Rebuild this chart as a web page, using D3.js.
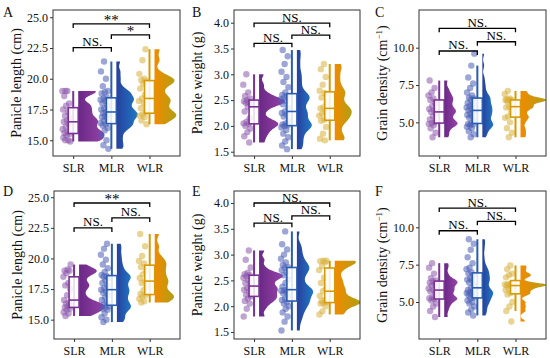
<!DOCTYPE html>
<html>
<head>
<meta charset="utf-8">
<script src="https://cdn.jsdelivr.net/npm/d3@7"></script>
<style>
  body { margin: 0; background: #fff; }
  svg { display: block; font-family: "Liberation Serif", "Times New Roman", serif; }
</style>
</head>
<body>
<svg id="chart" width="550" height="358"></svg>
<script>
// Groups
const groups = ['SLR', 'MLR', 'WLR'];

// Tick labels
const lengthTicks = [15, 17.5, 20, 22.5, 25];
const weightTicks = [1.5, 2, 2.5, 3, 3.5, 4];
const densityTicks = [5, 7.5, 10];

// Panel A - panicle length (cm)
const aSLR = [14.9, 15.0, 15.0, 15.2, 15.4, 15.5, 15.6, 15.7, 15.9, 16.1, 16.3, 16.5, 16.6, 16.8, 17.0, 17.3, 17.5, 17.8, 18.0, 18.6, 19.0, 19.0, 19.0];
const aMLR = [14.3, 14.6, 15.0, 15.4, 15.8, 16.0, 16.2, 16.3, 16.4, 16.6, 16.8, 16.9, 17.0, 17.1, 17.2, 17.3, 17.5, 17.6, 17.8, 18.0, 18.2, 18.3, 18.4, 18.5, 18.8, 18.9, 19.0, 19.4, 20.0, 20.6, 21.4];
const aWLR = [16.3, 16.6, 16.9, 17.0, 17.1, 17.3, 17.6, 18.0, 18.2, 18.4, 18.7, 19.2, 19.6, 19.8, 19.9, 20.0, 20.4, 21.5, 22.4];

// Panel B - panicle weight (g)
const bSLR = [1.68, 1.80, 1.88, 1.95, 2.00, 2.04, 2.05, 2.08, 2.15, 2.28, 2.37, 2.42, 2.45, 2.46, 2.48, 2.50, 2.53, 2.58, 2.65, 2.80, 3.00];
const bMLR = [1.55, 1.62, 1.70, 1.78, 1.85, 1.92, 1.97, 2.00, 2.01, 2.03, 2.05, 2.10, 2.18, 2.22, 2.25, 2.28, 2.35, 2.42, 2.48, 2.52, 2.55, 2.58, 2.60, 2.65, 2.75, 2.85, 2.95, 3.05, 3.20, 3.35, 3.47];
const bWLR = [1.72, 1.75, 1.85, 1.98, 2.10, 2.12, 2.20, 2.24, 2.28, 2.34, 2.36, 2.45, 2.55, 2.64, 2.68, 2.80, 2.95, 3.10, 3.20];

// Panel C - grain density (cm-1)
const cSLR = [4.0, 4.3, 4.6, 4.8, 4.9, 4.95, 5.0, 5.2, 5.4, 5.6, 5.7, 5.8, 5.9, 6.1, 6.3, 6.5, 6.6, 6.8, 7.0, 7.3, 7.8];
const cMLR = [4.0, 4.2, 4.4, 4.6, 4.7, 4.8, 4.85, 4.9, 4.95, 5.1, 5.3, 5.4, 5.5, 5.6, 5.7, 5.8, 5.9, 6.0, 6.1, 6.2, 6.3, 6.5, 6.6, 6.65, 6.8, 7.0, 7.3, 7.6, 8.0, 8.8, 9.6];
const cWLR = [4.0, 4.3, 4.6, 5.0, 5.3, 5.4, 5.7, 6.0, 6.05, 6.05, 6.4, 6.45, 6.5, 6.5, 6.5, 6.55, 6.6, 6.9, 7.1];

// Panel D - panicle length (cm)
const dSLR = [15.3, 15.5, 15.6, 15.8, 15.9, 16.0, 16.1, 16.2, 16.3, 16.4, 16.6, 17.0, 17.5, 17.8, 18.0, 18.5, 18.8, 19.0, 19.0, 19.1, 19.5];
const dMLR = [14.8, 15.0, 15.2, 15.5, 15.8, 15.9, 16.0, 16.1, 16.25, 16.4, 16.6, 16.8, 17.0, 17.2, 17.3, 17.45, 17.6, 17.8, 18.0, 18.2, 18.4, 18.5, 18.55, 18.65, 18.9, 19.2, 19.5, 19.9, 20.3, 20.8, 21.2];
const dWLR = [16.4, 16.5, 16.7, 16.9, 17.0, 17.1, 17.4, 17.7, 18.0, 18.15, 18.4, 18.7, 19.0, 19.3, 19.6, 19.8, 20.2, 21.0, 22.0];

// Panel E - panicle weight (g)
const eSLR = [1.80, 1.95, 2.05, 2.10, 2.15, 2.19, 2.22, 2.28, 2.32, 2.35, 2.39, 2.45, 2.50, 2.55, 2.58, 2.60, 2.62, 2.65, 2.75, 2.90, 3.08];
const eMLR = [1.53, 1.70, 1.80, 1.88, 1.95, 2.00, 2.05, 2.08, 2.12, 2.15, 2.20, 2.25, 2.28, 2.30, 2.31, 2.32, 2.38, 2.45, 2.52, 2.60, 2.65, 2.70, 2.74, 2.76, 2.80, 2.85, 2.92, 3.00, 3.10, 3.20, 3.45];
const eWLR = [1.84, 1.90, 2.00, 2.05, 2.06, 2.08, 2.10, 2.12, 2.20, 2.29, 2.35, 2.45, 2.55, 2.70, 2.78, 2.85, 2.87, 2.88, 2.88];

// Panel F - grain density (cm-1)
const fSLR = [4.0, 4.4, 4.7, 4.9, 5.1, 5.2, 5.25, 5.3, 5.5, 5.7, 5.8, 5.9, 6.1, 6.2, 6.3, 6.4, 6.45, 6.6, 6.9, 7.3, 7.6];
const fMLR = [4.1, 4.3, 4.5, 4.7, 4.9, 5.0, 5.1, 5.25, 5.3, 5.45, 5.55, 5.6, 5.65, 5.7, 5.8, 5.95, 6.1, 6.3, 6.45, 6.5, 6.6, 6.8, 6.9, 7.0, 7.2, 7.3, 7.6, 8.0, 8.5, 8.9, 9.2];
const fWLR = [3.7, 4.4, 4.7, 5.0, 5.5, 5.6, 5.8, 5.9, 6.05, 6.1, 6.15, 6.18, 6.2, 6.22, 6.65, 6.8, 6.9, 7.2, 7.45];

// Significance labels: [SLR-MLR, MLR-WLR, SLR-WLR]
const sigA = ['NS.', '*', '**'];
const sigB = ['NS.', 'NS.', 'NS.'];
const sigC = ['NS.', 'NS.', 'NS.'];
const sigD = ['NS.', 'NS.', '**'];
const sigE = ['NS.', 'NS.', 'NS.'];
const sigF = ['NS.', 'NS.', 'NS.'];

const colors = {
  SLR: { pt: '#8c58ab', box: '#7b3294', v0: '#6a2886', v1: '#9643a8' },
  MLR: { pt: '#4a5eb6', box: '#2a5db0', v0: '#28409c', v1: '#1f78c6' },
  WLR: { pt: '#d8b03c', box: '#d69a08', v0: '#f28a00', v1: '#b0a014' }
};

// layout: frame [left, top, right, bottom], bracket heights in data units
const panels = [
  { id: 'A', title: 'Panicle length (cm)', data: [aSLR, aMLR, aWLR], ticks: lengthTicks, sig: sigA,
    frame: [53, 10, 180, 156], yDom: [13.72, 25.59], letter: [3, 17], brackets: [22.53, 23.56, 24.46] },
  { id: 'B', title: 'Panicle weight (g)', data: [bSLR, bMLR, bWLR], ticks: weightTicks, sig: sigB,
    frame: [234, 10, 360, 156], yDom: [1.417, 4.246], letter: [192, 17], brackets: [3.60, 3.76, 3.99] },
  { id: 'C', title: 'Grain density (cm', sup: true, data: [cSLR, cMLR, cWLR], ticks: densityTicks, sig: sigC,
    frame: [419, 10, 546, 156], yDom: [2.746, 12.525], letter: [375, 17], brackets: [9.78, 10.40, 11.30] },
  { id: 'D', title: 'Panicle length (cm)', data: [dSLR, dMLR, dWLR], ticks: lengthTicks, sig: sigD,
    frame: [54, 191, 180, 339], yDom: [13.42, 25.51], letter: [3, 196], brackets: [22.49, 23.31, 24.53] },
  { id: 'E', title: 'Panicle weight (g)', data: [eSLR, eMLR, eWLR], ticks: weightTicks, sig: sigE,
    frame: [234, 191, 360, 339], yDom: [1.364, 4.233], letter: [192, 196], brackets: [3.61, 3.75, 4.0] },
  { id: 'F', title: 'Grain density (cm', sup: true, data: [fSLR, fMLR, fWLR], ticks: densityTicks, sig: sigF,
    frame: [419, 191, 546, 339], yDom: [2.524, 12.43], letter: [375, 196], brackets: [9.77, 10.40, 11.29] }
];

const svg = d3.select('#chart');
const defs = svg.append('defs');

groups.forEach(g => {
  const lg = defs.append('linearGradient').attr('id', 'grad-' + g).attr('x1', '0%').attr('x2', '100%');
  lg.append('stop').attr('offset', '0%').attr('stop-color', colors[g].v0);
  lg.append('stop').attr('offset', '100%').attr('stop-color', colors[g].v1);
});

function boxStats(values) {
  const s = values.slice().sort(d3.ascending);
  const q1 = d3.quantile(s, 0.25), med = d3.quantile(s, 0.5), q3 = d3.quantile(s, 0.75);
  const iqr = q3 - q1;
  const lo = d3.min(s.filter(v => v >= q1 - 1.5 * iqr));
  const hi = d3.max(s.filter(v => v <= q3 + 1.5 * iqr));
  return { q1, med, q3, lo, hi };
}

// gaussian kernel density, trimmed to the data range
function kde(values, adjust) {
  const s = values.slice().sort(d3.ascending);
  const sd = d3.deviation(s);
  const iqr = d3.quantile(s, 0.75) - d3.quantile(s, 0.25);
  const bw = 0.9 * Math.min(sd, iqr / 1.34) * Math.pow(s.length, -0.2) * adjust;
  const lo = s[0], hi = s[s.length - 1];
  return d3.range(0, 121).map(i => {
    const v = lo + (hi - lo) * i / 120;
    const d = d3.mean(s, x => Math.exp(-0.5 * ((v - x) / bw) ** 2)) / (bw * Math.sqrt(2 * Math.PI));
    return [v, d];
  });
}

function drawPanel(p, pi) {
  const [l, t, r, b] = p.frame;
  const x = d3.scaleLinear().domain([0.47, 3.8]).range([l, r]);
  const y = d3.scaleLinear().domain(p.yDom).range([b, t]);
  const g = svg.append('g');

  const clipId = 'clip-' + p.id;
  defs.append('clipPath').attr('id', clipId)
    .append('rect').attr('x', l).attr('y', t).attr('width', r - l).attr('height', b - t);

  const plot = g.append('g').attr('clip-path', `url(#${clipId})`);

  // half violins
  const dens = p.data.map(v => kde(v, 0.4));
  const maxD = d3.max(dens, d => d3.max(d, e => e[1]));
  const w = d3.scaleLinear().domain([0, maxD]).range([0, 26]);
  dens.forEach((d, i) => {
    const x0 = x(i + 1) + 5;
    const area = d3.area()
      .y(e => y(e[0]))
      .x0(x0)
      .x1(e => x0 + w(e[1]))
      .curve(d3.curveBasis);
    plot.append('path')
      .attr('d', area(d))
      .attr('fill', `url(#grad-${groups[i]})`)
      .attr('stroke', 'none');
  });

  // jittered points
  p.data.forEach((vals, i) => {
    plot.selectAll(null)
      .data(vals)
      .enter()
      .append('circle')
      .attr('cx', (v, k) => x(i + 1) - 3 - ((k * 0.6180339 + pi * 0.23) % 1) * 8)
      .attr('cy', v => y(v))
      .attr('r', 3.2)
      .attr('fill', colors[groups[i]].pt)
      .attr('fill-opacity', 0.55);
  });

  // boxplots
  p.data.forEach((vals, i) => {
    const st = boxStats(vals);
    const cx = x(i + 1);
    const c = colors[groups[i]].box;
    plot.append('line')
      .attr('x1', cx).attr('x2', cx)
      .attr('y1', y(st.lo)).attr('y2', y(st.hi))
      .attr('stroke', c).attr('stroke-width', 2);
    plot.append('rect')
      .attr('x', cx - 5).attr('width', 10)
      .attr('y', y(st.q3)).attr('height', y(st.q1) - y(st.q3))
      .attr('fill', '#fff').attr('fill-opacity', 0.85)
      .attr('stroke', c).attr('stroke-width', 1.6);
    plot.append('line')
      .attr('x1', cx - 5).attr('x2', cx + 5)
      .attr('y1', y(st.med)).attr('y2', y(st.med))
      .attr('stroke', c).attr('stroke-width', 1.6);
  });

  // significance brackets
  const pairs = [[1, 2], [2, 3], [1, 3]];
  pairs.forEach((pr, k) => {
    const yy = y(p.brackets[k]);
    const xa = x(pr[0]), xb = x(pr[1]);
    g.append('path')
      .attr('d', `M${xa},${yy + 4}V${yy}H${xb}V${yy + 4}`)
      .attr('fill', 'none').attr('stroke', '#000').attr('stroke-width', 1.3);
    const star = p.sig[k] !== 'NS.';
    g.append('text')
      .attr('x', (xa + xb) / 2)
      .attr('y', star ? yy + 1 : yy - 1.5)
      .attr('text-anchor', 'middle')
      .attr('font-size', star ? 15 : 13)
      .text(p.sig[k]);
  });

  // frame
  g.append('rect')
    .attr('x', l).attr('y', t).attr('width', r - l).attr('height', b - t)
    .attr('fill', 'none').attr('stroke', '#333').attr('stroke-width', 1);

  // axes
  const yAxis = g.append('g')
    .attr('transform', `translate(${l},0)`)
    .call(d3.axisLeft(y).tickValues(p.ticks).tickFormat(d3.format('.1f')).tickSize(3).tickPadding(2));
  const xAxis = g.append('g')
    .attr('transform', `translate(0,${b})`)
    .call(d3.axisBottom(x).tickValues([1, 2, 3]).tickFormat(d => groups[d - 1]).tickSize(3).tickPadding(4));
  [yAxis, xAxis].forEach(a => {
    a.select('.domain').remove();
    a.attr('font-family', null).attr('font-size', 12);
    a.selectAll('line').attr('stroke', '#333');
    a.selectAll('text').attr('fill', '#111');
  });

  // y title
  const ty = g.append('text')
    .attr('transform', `translate(${l - 37},${(t + b) / 2}) rotate(-90)`)
    .attr('text-anchor', 'middle')
    .attr('dy', '0.35em')
    .attr('font-size', 14)
    .attr('fill', '#111')
    .text(p.title);
  if (p.sup) {
    ty.append('tspan').attr('font-size', 9).attr('dy', -5).text('\u22121');
    ty.append('tspan').attr('dy', 5).text(')');
  }

  // panel letter
  g.append('text')
    .attr('x', p.letter[0]).attr('y', p.letter[1])
    .attr('font-size', 14).attr('fill', '#111')
    .text(p.id);
}

panels.forEach(drawPanel);
</script>
</body>
</html>
